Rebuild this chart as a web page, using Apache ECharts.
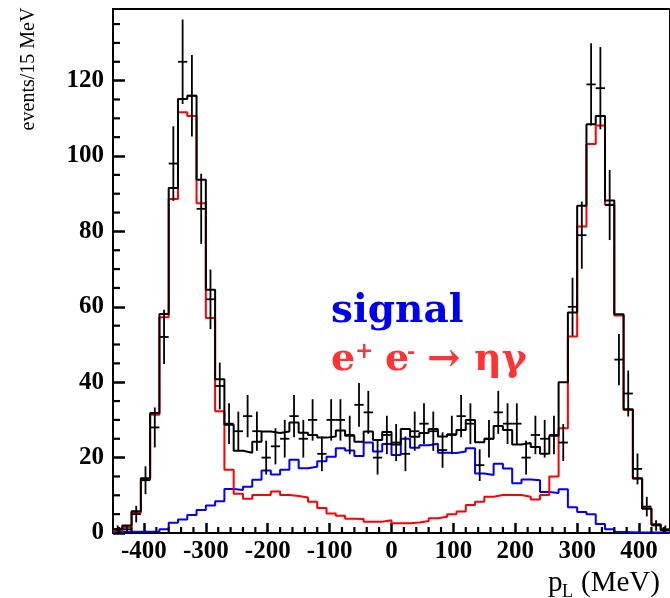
<!DOCTYPE html>
<html><head><meta charset="utf-8">
<script src="https://cdn.jsdelivr.net/npm/echarts@6/dist/echarts.min.js"></script>
<style>html,body{margin:0;padding:0;background:#fff}#c{width:670px;height:598px}</style>
</head><body><div id="c"></div>
<script>
// histogram binning: 60 bins of 15 MeV from -450 to 450
const binLow = -450;
const binWidth = 15;

// total fit (black histogram)
const total = [1.0,2.0,5.8,14.5,31.8,58.1,91.5,115.1,116.0,93.7,
  64.5,40.8,28.7,21.8,21.3,24.2,26.9,26.5,26.9,29.3,
  26.6,26.0,25.3,25.6,27.2,25.8,24.2,26.9,24.7,26.8,
  23.5,27.6,25.5,26.5,27.6,25.6,26.2,27.3,30.0,24.1,
  25.0,28.4,27.3,23.5,23.9,22.8,21.0,25.8,40.0,58.5,
  86.8,108.4,110.6,88.2,58.0,32.8,14.5,6.5,2.2,0.8];

// e+e- -> eta gamma (red histogram)
const background = [0.6,1.6,5.4,14.1,31.4,57.2,88.6,111.6,110.6,87.5,
  57.0,32.3,16.8,10.4,9.1,10.1,10.1,11.0,10.1,9.8,
  9.4,8.3,6.6,5.2,4.6,3.8,3.7,3.0,3.0,3.4,
  2.6,2.6,2.8,3.2,3.9,4.3,5.0,5.7,7.4,8.3,
  9.6,10.1,10.1,10.1,9.6,8.9,10.1,15.0,27.8,52.1,
  81.3,103.2,108.1,87.1,57.7,32.6,14.4,6.4,2.3,0.7];

// signal (blue histogram)
const signal = [0.35,0.35,0.35,0.35,0.35,1.0,2.7,3.6,4.8,6.1,
  7.3,8.4,11.7,11.4,12.3,14.1,16.6,15.5,16.8,19.4,
  17.2,17.6,19.0,20.2,22.5,21.9,20.4,24.0,21.6,23.6,
  20.7,25.0,22.6,23.3,23.7,21.3,21.2,21.6,22.5,15.8,
  15.4,18.4,17.1,13.2,14.2,14.0,10.9,10.6,11.6,6.8,
  5.6,5.0,2.4,1.0,0.25,0.2,0.1,0.1,0.1,0.1];

// data points (counts) and their error bars
const dataCounts = [1,1,5,14,28,52,98,125,116,86,
  62,39,29,27,31,27,20,23,25,31,
  25,30,21,30,30,26,34,32,20,26,
  24,21,27,29,27,22,26,31,29,18,
  25,32,29,29,20,26,25,26,24,60,
  79,119,118,87,46,37,17,7,2,1];
const dataErrors = [1,1,2.2,3.7,5.3,7.2,9.9,11.2,10.8,9.3,
  7.9,6.2,5.4,5.2,5.6,5.2,4.5,4.8,5,5.6,
  5,5.5,4.6,5.5,5.5,5.1,5.8,5.7,4.5,5.1,
  4.9,4.6,5.2,5.4,5.2,4.7,5.1,5.6,5.4,4.2,
  5,5.7,5.4,5.4,4.5,5.1,5,5.1,4.9,7.7,
  8.9,10.9,10.9,9.3,6.8,6.1,4.1,2.6,1.4,1];

// tick labels / tick positions
const xMajorTicks = [-400,-300,-200,-100,0,100,200,300,400];
const yMajorTicks = [0,20,40,60,80,100,120];
const xMinorTicks = []; for (let v = -440; v <= 440; v += 20) if (v % 100 !== 0) xMinorTicks.push(v);
const yMinorTicks = []; for (let v = 5; v <= 135; v += 5) if (v % 20 !== 0) yMinorTicks.push(v);

function stepData(vals){
  const pts = vals.map((v,i)=>[binLow + i*binWidth, v]);
  pts.push([binLow + vals.length*binWidth, vals[vals.length-1]]);
  return pts;
}

const chart = echarts.init(document.getElementById('c'), null, {renderer:'canvas'});
const serif = 'Liberation Serif';
const labelStyle = {fontFamily: serif, fontWeight:'bold', fontSize: 25, color:'#000'};

chart.setOption({
  animation:false,
  grid:{left:113, top:9, right:-3.4, bottom:65, show:true, borderColor:'#000', borderWidth:2},
  xAxis:{type:'value', min:-450, max:450, interval:50, position:'bottom',
     axisLine:{show:true, onZero:false, lineStyle:{color:'#000', width:2}},
     axisTick:{show:true, inside:true, length:10, customValues:xMajorTicks, lineStyle:{color:'#000', width:2.5}},
     axisLabel:Object.assign({customValues:xMajorTicks, margin:6, formatter:v=>String(v)}, labelStyle),
     splitLine:{show:false}},
  yAxis:{type:'value', min:0, max:139, interval:20, position:'left',
     axisLine:{show:true, onZero:false, lineStyle:{color:'#000', width:2}},
     axisTick:{show:true, inside:true, length:12, customValues:yMajorTicks, lineStyle:{color:'#000', width:2.5}},
     axisLabel:Object.assign({customValues:yMajorTicks, margin:9, formatter:v=>String(v)}, labelStyle),
     splitLine:{show:false}},
  series:[
    {type:'line', step:'end', data:stepData(signal), symbol:'none', lineStyle:{color:'#0000ff', width:2}, z:2},
    {type:'line', step:'end', data:stepData(background), symbol:'none', lineStyle:{color:'#ff0000', width:2}, z:3},
    {type:'line', step:'end', data:stepData(total), symbol:'none', lineStyle:{color:'#000', width:2}, z:4},
    {type:'custom', z:5,
     data:dataCounts.map((v,i)=>[binLow+(i+0.5)*binWidth, v, dataErrors[i]]),
     encode:{x:0, y:1},
     renderItem:function(params, api){
       const x = api.value(0), y = api.value(1), e = api.value(2);
       const c = api.coord([x, y]);
       const lo = api.coord([x, Math.max(0, y-e)]);
       const hi = api.coord([x, y+e]);
       const l = api.coord([x-binWidth/2, y]);
       const r = api.coord([x+binWidth/2, y]);
       return {type:'group', children:[
         {type:'line', shape:{x1:lo[0], y1:lo[1], x2:hi[0], y2:hi[1]}, style:{stroke:'#000', lineWidth:1.8}},
         {type:'line', shape:{x1:l[0], y1:c[1], x2:r[0], y2:c[1]}, style:{stroke:'#000', lineWidth:1.8}}
       ]};
     }}
  ]
});

// minor tick marks placed through the chart's own axis scales
function px(x, y){ return chart.convertToPixel({gridIndex:0}, [x, y]); }
const tickEls = [];
function addX(vals, len){ vals.forEach(v => { const p = px(v, 0); tickEls.push({type:'line', z:100, silent:true, shape:{x1:p[0], y1:p[1], x2:p[0], y2:p[1]-len}, style:{stroke:'#000', lineWidth:2.2}}); }); }
function addY(vals, len){ vals.forEach(v => { const p = px(binLow, v); tickEls.push({type:'line', z:100, silent:true, shape:{x1:p[0], y1:p[1], x2:p[0]+len, y2:p[1]}, style:{stroke:'#000', lineWidth:2.2}}); }); }
addX(xMinorTicks, 6);
addY(yMinorTicks, 7);

const textEls = [
  {type:'text', x:29, y:69, rotation:Math.PI/2,
   style:{text:'events/15 MeV', font:'20px "Liberation Serif"', fill:'#000', textAlign:'center', textVerticalAlign:'middle'}},
  {type:'text', x:548, y:583, style:{text:'p', font:'29px "Liberation Serif"', fill:'#000', textAlign:'left', textVerticalAlign:'middle'}},
  {type:'text', x:562, y:592, style:{text:'L', font:'18px "Liberation Serif"', fill:'#000', textAlign:'left', textVerticalAlign:'middle'}},
  {type:'text', x:581, y:583, style:{text:'(MeV)', font:'29px "Liberation Serif"', fill:'#000', textAlign:'left', textVerticalAlign:'middle'}},
  {type:'text', x:331, y:312, style:{text:'signal', font:'bold 39px "DejaVu Serif"', fill:'#0000f0', textAlign:'left', textVerticalAlign:'middle'}},
  {type:'text', x:331, y:360, style:{text:'e', font:'bold 38px "DejaVu Serif"', fill:'#ff3333', textAlign:'left', textVerticalAlign:'middle'}},
  {type:'text', x:355, y:352, style:{text:'+', font:'bold 22px "DejaVu Serif"', fill:'#ff3333', textAlign:'left', textVerticalAlign:'middle'}},
  {type:'text', x:385, y:360, style:{text:'e', font:'bold 38px "DejaVu Serif"', fill:'#ff3333', textAlign:'left', textVerticalAlign:'middle'}},
  {type:'text', x:407, y:353, style:{text:'-', font:'bold 20px "DejaVu Serif"', fill:'#ff3333', textAlign:'left', textVerticalAlign:'middle'}},
  {type:'text', x:427, y:361, style:{text:'→', font:'bold 40px "DejaVu Serif"', fill:'#ff3333', textAlign:'left', textVerticalAlign:'middle'}},
  {type:'text', x:474, y:360, style:{text:'ηγ', font:'bold 38px "DejaVu Serif"', fill:'#ff3333', textAlign:'left', textVerticalAlign:'middle'}}
];

chart.setOption({graphic: textEls.concat(tickEls)});
</script>
</body></html>
